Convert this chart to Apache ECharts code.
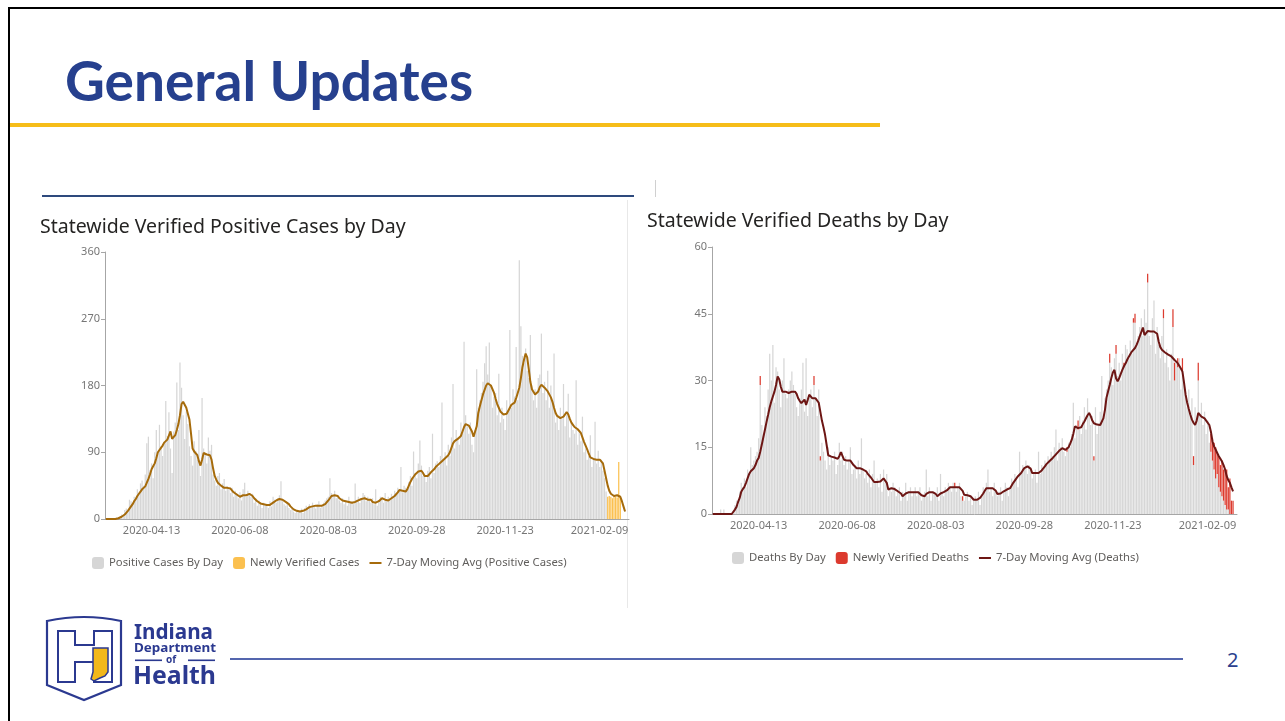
<!DOCTYPE html>
<html>
<head>
<meta charset="utf-8">
<script src="https://cdn.jsdelivr.net/npm/echarts@6/dist/echarts.min.js"></script>
<style>
  body { margin: 0; background: #fff; }
  .slide { position: relative; width: 1285px; height: 721px; overflow: hidden; background: #fff; font-family: "Noto Sans", sans-serif; }
  .rule { position: absolute; }
  .title { position: absolute; left: 65px; top: 53px; font-family: Lato, sans-serif; font-weight: bold; font-size: 55px; line-height: 55px; color: #26408e; white-space: nowrap; }
  .page-no { position: absolute; left: 1227px; top: 646px; font-family: "Noto Sans", sans-serif; font-size: 20px; color: #2b3f8e; }
  #chart { position: absolute; left: 0; top: 0; width: 1285px; height: 721px; }
  #logo { position: absolute; left: 0; top: 0; width: 1285px; height: 721px; pointer-events: none; }
</style>
</head>
<body>
<div class="slide">
  <div class="rule" style="left:8px;top:7px;width:1277px;height:2px;background:#000"></div>
  <div class="rule" style="left:8px;top:7px;width:2px;height:714px;background:#000"></div>
  <div class="title">General Updates</div>
  <div class="rule" style="left:10px;top:123px;width:870px;height:4px;background:#f6bd19"></div>
  <div class="rule" style="left:42px;top:195px;width:592px;height:2px;background:#2e4a7d"></div>
  <div class="rule" style="left:655px;top:180px;width:1px;height:17px;background:#d0d0d0"></div>
  <div class="rule" style="left:627px;top:200px;width:1px;height:408px;background:#e8e8e8"></div>
  <div class="rule" style="left:230px;top:658px;width:953px;height:2px;background:#5466ae"></div>
  <div class="page-no">2</div>
  <div id="chart"></div>
  <svg id="logo" viewBox="0 0 1285 721">
    <path d="M47,621 Q84,613 121,621 L121,685 L84,700 L47,685 Z" fill="#fff" stroke="#2b3990" stroke-width="2.2"/>
    <path d="M58,631 H75 V645 H94 V631 H112 V682 H94 V662 H75 V682 H58 Z" fill="none" stroke="#2b3990" stroke-width="2"/>
    <path d="M93,648 L108,648 L108,672 L105,676 L100,678 L94,681 L91,679 L93,672 Z" fill="#f2b81a" stroke="#2b3990" stroke-width="1.5"/>
    <g fill="#2b3990" font-family="Noto Sans, sans-serif" font-weight="bold">
      <text x="134" y="639" font-size="22" textLength="79" lengthAdjust="spacingAndGlyphs">Indiana</text>
      <text x="134" y="652" font-size="12" textLength="82" lengthAdjust="spacingAndGlyphs">Department</text>
      <text x="166" y="663" font-size="10">of</text>
      <text x="133" y="684" font-size="25" textLength="83" lengthAdjust="spacingAndGlyphs">Health</text>
    </g>
    <rect x="135" y="659.5" width="27" height="1.6" fill="#2b3990"/>
    <rect x="188" y="659.5" width="27" height="1.6" fill="#2b3990"/>
  </svg>
</div>
<script>
// x categories: one per day
const startDay = '2020-03-15';
const dayCount = 332;
const tickDates = ['2020-04-13', '2020-06-08', '2020-08-03', '2020-09-28', '2020-11-23', '2021-02-09'];

// Positive cases by day (grey bars), from 2020-03-15
const casesByDay = [
  0,0,0,1,0,0,1,2,1,3,
  6,5,12,14,10,26,24,22,30,28,
  40,35,48,52,45,60,102,111,66,75,
  55,90,120,88,127,98,85,104,159,112,
  144,95,62,118,130,184,120,211,177,140,
  108,145,128,98,85,72,105,92,80,120,
  58,163,95,88,75,110,92,100,60,52,
  45,58,62,40,48,54,38,44,40,35,
  42,30,38,33,28,36,25,40,49,30,
  38,35,30,34,22,28,18,25,20,15,
  22,18,20,15,24,17,30,26,22,28,
  32,51,24,20,18,22,15,12,14,10,
  8,12,9,10,14,8,15,18,12,20,
  16,22,18,14,20,24,15,19,22,25,
  28,30,55,35,32,38,28,30,25,22,
  28,20,25,18,30,22,24,20,48,26,
  30,22,28,35,32,24,30,26,22,28,
  20,40,18,25,30,28,22,35,24,30,
  28,34,30,38,35,42,40,70,36,45,
  42,38,50,58,45,91,62,55,75,106,
  72,58,60,50,65,70,55,115,62,75,
  78,70,85,157,80,90,72,100,85,110,
  182,95,120,110,100,130,115,239,140,125,
  115,130,100,90,120,202,150,160,170,185,
  210,233,195,238,180,150,165,170,140,196,
  130,150,135,120,160,145,255,150,175,165,
  232,160,349,260,220,210,230,200,190,248,
  180,160,175,150,190,195,250,170,185,160,
  200,150,180,160,223,130,140,120,150,135,
  182,125,140,169,110,130,120,115,187,100,
  120,105,138,90,95,80,85,113,70,80,
  131,75,92,70,80,65,55,37,0,0,
  0,0,0,0,0,0,0,0,0,0
];
// Newly verified cases (orange bars)
const newCasesDays = ['2021-01-27', '2021-01-28', '2021-01-29', '2021-01-30', '2021-01-31',
                      '2021-02-01', '2021-02-02', '2021-02-03', '2021-02-04'];
const newCasesVals = [30, 31, 30, 28, 31, 30, 29, 77, 30];
// 7-day moving average (positive cases)
const casesAvg = [
  0,0,0,0,0,0,0,1,1,2,
  3,4,6,8,11,14,17,20,24,27,
  31,34,37,40,42,44,49,54,60,67,
  71,75,82,90,93,95,99,103,105,107,
  108,118,108,107,113,120,128,140,155,158,
  154,150,142,134,115,95,91,90,86,78,
  72,80,89,88,87,87,86,80,68,58,
  53,49,47,45,43,42,42,42,41,41,
  39,36,35,33,31,30,31,32,33,32,
  33,34,33,31,28,26,24,22,21,21,
  20,19,19,19,19,20,22,24,25,26,
  27,27,26,25,23,22,20,17,15,13,
  12,11,10,10,10,11,12,13,15,16,
  17,17,18,18,18,18,18,18,19,20,
  22,25,28,31,31,32,32,31,28,27,
  25,24,24,23,23,22,22,23,23,24,
  25,26,27,28,28,27,26,26,26,23,
  22,22,23,24,26,28,27,26,25,25,
  26,28,30,31,33,36,39,40,38,37,
  37,40,45,50,54,57,60,62,64,65,
  65,62,58,56,58,60,63,65,67,70,
  72,74,76,78,80,82,83,86,90,96,
  102,105,107,108,109,112,118,124,128,128,
  126,125,118,111,112,125,143,152,160,168,
  174,180,183,182,180,178,170,162,155,150,
  145,143,141,141,142,146,150,154,155,157,
  163,170,177,190,205,215,223,218,202,185,
  175,173,168,168,172,178,181,180,177,175,
  172,168,164,158,150,143,139,137,136,136,
  138,141,144,141,135,130,127,124,122,121,
  120,116,110,104,99,94,88,83,82,81,
  81,80,81,80,79,75,65,55,45,38,
  34,32,31,31,32,32,30,24,17,10,
  null,null
];

// Deaths by day (grey bars), from 2020-03-15
const deathsByDay = [
  0,0,0,0,0,1,0,1,0,0,
  0,0,0,0,2,3,2,5,7,6,
  8,6,10,9,15,11,12,13,14,17,
  29,20,18,24,22,28,36,30,38,25,
  33,32,28,24,30,35,27,26,28,30,
  32,29,27,24,22,26,28,34,23,35,
  22,27,28,24,29,26,22,28,12,16,
  14,12,10,15,11,13,12,14,9,11,
  16,12,14,11,13,10,12,15,9,10,
  11,8,12,9,17,10,8,9,7,10,
  6,9,12,7,8,6,9,5,10,7,
  9,4,6,5,7,6,4,5,6,3,
  5,4,7,3,5,6,4,5,6,4,
  5,6,3,4,5,10,4,6,3,5,
  5,4,6,3,9,5,4,6,5,7,
  6,5,7,6,5,6,7,4,3,3,
  4,5,3,4,2,3,4,3,5,2,
  4,6,5,7,10,5,6,4,7,5,
  4,5,6,3,5,7,6,4,6,8,
  7,9,8,6,14,9,11,10,12,9,
  11,10,8,9,10,7,14,9,11,10,
  12,11,13,12,14,13,15,19,12,16,
  15,17,14,13,14,16,15,18,25,17,
  20,19,22,18,21,24,19,26,23,20,
  22,12,24,18,20,23,31,21,26,28,
  30,34,33,29,35,36,31,34,30,36,
  33,38,37,35,39,36,43,43,38,40,
  42,44,40,46,43,52,40,38,44,48,
  36,42,38,35,40,44,34,37,33,30,
  36,42,30,34,33,35,28,32,30,26,
  24,28,22,26,11,24,21,30,22,25,
  20,23,18,21,16,14,12,10,8,9,
  6,5,4,3,2,1,1,0,0,0,
  0,0
];
// Newly verified deaths (red bars, stacked on the grey ones)
const newDeathsDays = [
  '2020-04-14', '2020-05-18', '2020-05-22', '2020-08-15', '2020-08-20',
  '2020-10-25', '2020-11-01', '2020-11-11', '2020-11-21', '2020-11-25', '2020-11-30',
  '2020-12-06', '2020-12-07', '2020-12-15', '2020-12-25', '2020-12-31',
  '2021-01-01', '2021-01-03', '2021-01-06', '2021-01-13', '2021-01-16',
  '2021-01-24', '2021-01-25', '2021-01-26', '2021-01-27', '2021-01-28', '2021-01-29',
  '2021-01-30', '2021-01-31', '2021-02-01', '2021-02-02', '2021-02-03', '2021-02-04',
  '2021-02-05', '2021-02-06', '2021-02-07'
];
const newDeathsVals = [
  2, 2, 1, 1, 1,
  1, 2, 1, 2, 2, 1,
  1, 2, 2, 2, 4,
  4, 2, 3, 2, 4,
  4, 5, 6, 7, 5, 7,
  6, 8, 7, 8, 9, 5,
  8, 3, 3
];
// 7-day moving average (deaths)
const deathsAvg = [
  0,0,0,0,0,0,0,0,0,0,
  0,0,0,0,1,1.6,2.7,3.6,5,5.6,
  6.1,7,8,9,9.6,10,10.3,11,12,12.6,
  14,15.6,17.3,19,20.7,22.3,24,25.3,26.4,27.5,
  29,30.9,30.3,28.6,27.5,27.4,27.5,27.4,27.2,27.3,
  27.5,27.6,27.5,27,26,25.4,24.9,25.2,25.7,24.5,
  25.6,26.8,26.5,26,26,26,26,25,23,21,
  19.5,17.8,15.5,13.2,13,12.9,12.9,12.7,12.5,12.4,
  13,13.9,13.5,12.2,12,12,12,12,11.5,11,
  10.7,10.3,10,10.3,10.3,10,9.8,9.6,9,8.6,
  8.2,7.8,7.2,7.2,7.2,7.2,7.3,7.6,8,8.1,
  7,5.5,5.6,5.8,5.8,5.6,5.3,5.1,5,4.6,
  4,4.3,4.6,4.9,4.9,4.9,4.9,4.9,4.9,4.9,
  4.9,4.5,4.2,4,4,4.5,4.9,4.9,4.9,4.9,
  4.9,4.5,4,4.3,4.6,4.9,4.9,4.9,5.3,5.7,
  6,6,6,6,6,6,6,6,5.2,4.3,
  4.3,4.2,4,4,3.6,3.2,3.2,3.2,3.2,3.6,
  4,4.6,5.2,5.8,5.8,5.8,5.8,5.8,5.8,5.2,
  4.5,4.3,4.6,5,5.1,5.2,5.5,5.5,5.8,6.4,
  7,7.5,8,8.5,8.8,9.2,9.8,10.3,10.5,10.7,
  10.7,10.2,9.2,9.2,9.2,9.2,9.2,9.4,9.8,10.2,
  10.7,11.2,11.5,11.9,12.2,12.6,13,13.4,13.7,14.2,
  14.6,14.8,14.6,14.4,14.4,15,15.8,16.7,18,19.7,
  19.7,19.3,18.9,19.5,20.2,20.8,21.5,22.2,22.7,22,
  21,20.4,20.2,20.1,20,20,20.2,21.5,23.4,26.2,
  27.6,29,30.5,31.8,32.4,30.5,29.8,30.5,31.5,32.4,
  33.2,33.8,34.6,35.3,35.9,36.5,36.9,37.3,38,38.9,
  39.9,40.9,41.9,40.2,40.6,41.1,41.1,41,41,41,
  41,40.5,38.7,37.5,36.9,36.5,36.3,36.1,35.8,35.6,
  35.4,35,34.6,34.2,33.9,33.3,32.7,32,29.5,26.8,
  25,23.6,22.3,21.2,20.5,20,21,22.7,22.3,21.9,
  21.5,21.5,21,20.6,20,18.5,16.3,15.2,14.5,13.7,
  13,12.4,11.8,11,10,8.5,7.6,7,6,5.1,
  null,null
];

const days = [];
const d0 = new Date(startDay + 'T00:00:00Z');
for (let k = 0; k < dayCount; k++) {
  const d = new Date(d0.getTime() + k * 86400000);
  days.push(d.toISOString().slice(0, 10));
}
// spread the sparse "newly verified" lists over the day categories
function byDay(dayList, valList) {
  return days.map(function (day) {
    const k = dayList.indexOf(day);
    return k >= 0 ? valList[k] : 0;
  });
}

const grey = '#d6d6d6';
const axisGrey = '#a6a6a6';
const labelGrey = '#767676';
const font = 'Noto Sans';
// a flat line icon for the moving-average legend entries
const lineIcon = 'path://M0,0H0.01V0.01H0Z M0,5H12V7H0Z M11.99,11.99H12V12H11.99Z';

function dayAxis(gridIndex, endTick) {
  return {
    type: 'category',
    gridIndex: gridIndex,
    data: days,
    boundaryGap: true,
    axisLine: { lineStyle: { color: axisGrey, width: 1 } },
    axisTick: {
      alignWithLabel: true,
      length: 4,
      lineStyle: { color: axisGrey },
      interval: function (i, v) { return tickDates.indexOf(v) >= 0 && (endTick || v !== '2021-02-09'); }
    },
    axisLabel: {
      interval: function (i, v) { return tickDates.indexOf(v) >= 0; },
      color: labelGrey, fontSize: 11, fontFamily: font, margin: 6,
      alignMaxLabel: 'right'
    },
    splitLine: { show: false }
  };
}

function valueAxis(gridIndex, max, step) {
  return {
    type: 'value',
    gridIndex: gridIndex,
    min: 0, max: max, interval: step,
    axisLine: { show: true, lineStyle: { color: axisGrey } },
    axisTick: { show: true, length: 4, lineStyle: { color: axisGrey } },
    splitLine: { show: false },
    axisLabel: { color: labelGrey, fontSize: 11, fontFamily: font, margin: 5 }
  };
}

const legendText = { fontFamily: font, fontSize: 11.3, color: '#605e5c' };

var chart = echarts.init(document.getElementById('chart'), null, { renderer: 'canvas' });
var option = {
  animation: false,
  title: [
    { text: 'Statewide Verified Positive Cases by Day', left: 40, top: 217, padding: 0,
      textStyle: { fontFamily: font, fontSize: 19.5, fontWeight: 'normal', color: '#252423' } },
    { text: 'Statewide Verified Deaths by Day', left: 647, top: 211, padding: 0,
      textStyle: { fontFamily: font, fontSize: 19.5, fontWeight: 'normal', color: '#252423' } }
  ],
  legend: [
    { data: ['Positive Cases By Day', 'Newly Verified Cases',
             { name: '7-Day Moving Avg (Positive Cases)', icon: lineIcon }],
      left: 92, top: 557, padding: 0, itemWidth: 12, itemHeight: 12, itemGap: 10,
      textStyle: legendText },
    { data: ['Deaths By Day', 'Newly Verified Deaths',
             { name: '7-Day Moving Avg (Deaths)', icon: lineIcon }],
      left: 732, top: 552, padding: 0, itemWidth: 12, itemHeight: 12, itemGap: 10,
      textStyle: legendText }
  ],
  grid: [
    { left: 105, top: 252, width: 524, height: 267 },
    { left: 712, top: 247, width: 525, height: 267 }
  ],
  xAxis: [dayAxis(0, false), dayAxis(1, true)],
  yAxis: [valueAxis(0, 360, 90), valueAxis(1, 60, 15)],
  series: [
    { name: 'Positive Cases By Day', type: 'bar', xAxisIndex: 0, yAxisIndex: 0, stack: 'cases',
      barCategoryGap: '22%', itemStyle: { color: grey }, data: casesByDay },
    { name: 'Newly Verified Cases', type: 'bar', xAxisIndex: 0, yAxisIndex: 0, stack: 'cases',
      itemStyle: { color: '#fbc04f' }, data: byDay(newCasesDays, newCasesVals) },
    { name: '7-Day Moving Avg (Positive Cases)', type: 'line', xAxisIndex: 0, yAxisIndex: 0,
      smooth: false, symbol: 'none', lineStyle: { color: '#a66b0b', width: 2 },
      itemStyle: { color: '#a66b0b' }, data: casesAvg },
    { name: 'Deaths By Day', type: 'bar', xAxisIndex: 1, yAxisIndex: 1, stack: 'deaths',
      barCategoryGap: '22%', itemStyle: { color: grey }, data: deathsByDay },
    { name: 'Newly Verified Deaths', type: 'bar', xAxisIndex: 1, yAxisIndex: 1, stack: 'deaths',
      itemStyle: { color: '#dc3a2e' }, data: byDay(newDeathsDays, newDeathsVals) },
    { name: '7-Day Moving Avg (Deaths)', type: 'line', xAxisIndex: 1, yAxisIndex: 1,
      smooth: false, symbol: 'none', lineStyle: { color: '#6d1614', width: 2 },
      itemStyle: { color: '#6d1614' }, data: deathsAvg }
  ]
};
chart.setOption(option);
</script>
</body>
</html>
